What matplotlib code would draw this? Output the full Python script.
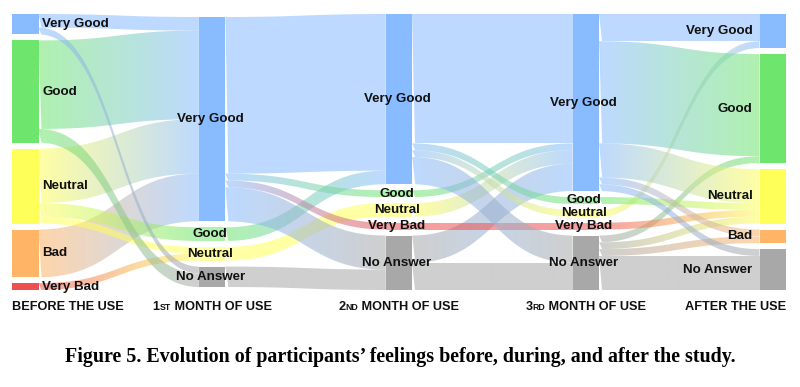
import numpy as np
import matplotlib.pyplot as plt
from matplotlib.path import Path
from matplotlib.patches import PathPatch, Rectangle
from matplotlib.colors import to_rgb

stages = ["BEFORE THE USE", "1ST MONTH OF USE", "2ND MONTH OF USE",
          "3RD MONTH OF USE", "AFTER THE USE"]

nodes = [
    ["Very Good", "Good", "Neutral", "Bad", "Very Bad"],
    ["Very Good", "Good", "Neutral", "No Answer"],
    ["Very Good", "Good", "Neutral", "Very Bad", "No Answer"],
    ["Very Good", "Good", "Neutral", "Very Bad", "No Answer"],
    ["Very Good", "Good", "Neutral", "Bad", "No Answer"],
]

# (source, target, participants) for each step between stages
flows_0 = [("Very Good", "Very Good", 2), ("Very Good", "No Answer", 1),
           ("Good", "Very Good", 13), ("Good", "No Answer", 2),
           ("Neutral", "Very Good", 8), ("Neutral", "Good", 2), ("Neutral", "Neutral", 1),
           ("Bad", "Very Good", 7), ("Very Bad", "Neutral", 1)]
flows_1 = [("Very Good", "Very Good", 23), ("Very Good", "Good", 1),
           ("Very Good", "Very Bad", 1), ("Very Good", "No Answer", 5),
           ("Good", "Very Good", 2), ("Neutral", "Neutral", 2),
           ("No Answer", "No Answer", 3)]
flows_2 = [("Very Good", "Very Good", 19), ("Very Good", "Good", 1),
           ("Very Good", "Neutral", 1), ("Very Good", "No Answer", 4),
           ("Good", "Very Good", 1), ("Neutral", "Very Good", 2),
           ("Very Bad", "Very Bad", 1), ("No Answer", "Very Good", 4),
           ("No Answer", "No Answer", 4)]
flows_3 = [("Very Good", "Very Good", 4), ("Very Good", "Good", 15),
           ("Very Good", "Neutral", 5), ("Very Good", "Bad", 1),
           ("Very Good", "No Answer", 1), ("Good", "Neutral", 1),
           ("Neutral", "Very Good", 1), ("Very Bad", "Neutral", 1),
           ("No Answer", "Good", 1), ("No Answer", "Neutral", 1),
           ("No Answer", "Bad", 1), ("No Answer", "No Answer", 5)]
flows = [flows_0, flows_1, flows_2, flows_3]

colors = {"Very Good": "#88BBFF", "Good": "#6EE66E", "Neutral": "#FFFF5A",
          "Bad": "#FFB466", "Very Bad": "#EE5050", "No Answer": "#A8A8A8"}
alpha = 0.55

# layout in pixel units
top, bottom = 14, 290
x_left, x_right, bar_w = 12, 759.5, 26.5
gap = 6.0

fig = plt.figure(figsize=(8, 3.87), dpi=100)
ax = fig.add_axes([0, 0, 1, 1])
ax.axis("off")

# node values
values = []
for s, names in enumerate(nodes):
    v = {}
    for n in names:
        inn = sum(f[2] for f in flows[s - 1] if f[1] == n) if s > 0 else 0
        out = sum(f[2] for f in flows[s] if f[0] == n) if s < len(flows) else 0
        v[n] = max(inn, out)
    values.append(v)

total = sum(values[0].values())
max_nodes = max(len(n) for n in nodes)
unit = (bottom - top - (max_nodes - 1) * gap) / total
spacing = (x_right - x_left) / (len(nodes) - 1)

pos = []
for s, names in enumerate(nodes):
    h = total * unit + (len(names) - 1) * gap
    y = top + (bottom - top - h) / 2
    p = {}
    for n in names:
        p[n] = [y, y + values[s][n] * unit]
        y += values[s][n] * unit + gap
    pos.append(p)


def light(c):
    r = np.array(to_rgb(c))
    return 1 - alpha * (1 - r)


# links
t = np.linspace(0, 1, 80)
for s, fl in enumerate(flows):
    x0 = x_left + s * spacing + bar_w
    x1 = x_left + (s + 1) * spacing
    xm = (x0 + x1) / 2
    bx = (1 - t) ** 3 * x0 + 3 * (1 - t) ** 2 * t * xm + 3 * (1 - t) * t ** 2 * xm + t ** 3 * x1
    sm = 3 * t ** 2 - 2 * t ** 3
    out_off = {n: pos[s][n][0] for n in nodes[s]}
    in_off = {n: pos[s + 1][n][0] for n in nodes[s + 1]}
    src_order = {n: i for i, n in enumerate(nodes[s])}
    tgt_order = {n: i for i, n in enumerate(nodes[s + 1])}
    outs = sorted(fl, key=lambda f: (src_order[f[0]], tgt_order[f[1]]))
    starts = {}
    for f in outs:
        starts[f] = out_off[f[0]]
        out_off[f[0]] += f[2] * unit
    ins = sorted(fl, key=lambda f: (tgt_order[f[1]], src_order[f[0]]))
    for f in ins:
        ya = starts[f]
        yb = in_off[f[1]]
        in_off[f[1]] += f[2] * unit
        hgt = f[2] * unit
        y_top = ya + (yb - ya) * sm
        y_bot = y_top + hgt
        verts = np.concatenate([np.column_stack([bx, y_top]),
                                np.column_stack([bx[::-1], y_bot[::-1]])])
        patch = PathPatch(Path(verts, closed=True), facecolor="none", edgecolor="none")
        ax.add_patch(patch)
        c0 = np.array(to_rgb(colors[f[0]]))
        c1 = np.array(to_rgb(colors[f[1]]))
        g = np.linspace(0, 1, 100)[:, None]
        img = np.ones((1, 100, 4))
        img[0, :, :3] = c0 * (1 - g) + c1 * g
        img[0, :, 3] = alpha
        ymin, ymax = min(ya, yb), max(ya, yb) + hgt
        im = ax.imshow(img, extent=(x0, x1, ymax, ymin), aspect="auto",
                       interpolation="bilinear", zorder=1)
        im.set_clip_path(patch)

# node bars and labels
lab_font = dict(family="Liberation Sans", weight="bold", size=9.6, color="#111111")
for s, names in enumerate(nodes):
    xb = x_left + s * spacing
    for n in names:
        y0, y1 = pos[s][n]
        middle = 0 < s < len(nodes) - 1
        fc = light(colors[n]) if (middle and values[s][n] <= 2) else colors[n]
        ax.add_patch(Rectangle((xb, y0), bar_w, y1 - y0, facecolor=fc,
                               edgecolor="none", zorder=2))
        yc = (y0 + y1) / 2
        if s == 0:
            ax.text(xb + bar_w + 4, yc, n, ha="left", va="center", zorder=3, **lab_font)
        elif s == len(nodes) - 1:
            ax.text(xb - 7, yc, n, ha="right", va="center", zorder=3, **lab_font)
        else:
            ax.text(xb + bar_w / 2 - 2, yc, n, ha="center", va="center", zorder=3, **lab_font)

ax.set_xlim(0, 800)
ax.set_ylim(387, 0)

# stage labels
st_font = dict(family="Liberation Sans", weight="bold", color="#111111")
base_y = 310.5
fig.canvas.draw()
r = fig.canvas.get_renderer()
for s, lab in enumerate(stages):
    if lab[0].isdigit():
        pieces = [(lab[0], 9.2), (lab[1:3], 6.3), (lab[3:], 9.2)]
    else:
        pieces = [(lab, 9.2)]
    texts = [ax.text(0, base_y, p, ha="left", va="baseline", size=sz, **st_font)
             for p, sz in pieces]
    widths = [tx.get_window_extent(r).width for tx in texts]
    w = sum(widths)
    xb = x_left + s * spacing
    if s == 0:
        x = xb
    elif s == len(stages) - 1:
        x = xb + bar_w - w
    else:
        x = xb + bar_w / 2 - w / 2
    for tx, wd in zip(texts, widths):
        tx.set_x(x)
        x += wd

fig.text(0.5, 1 - 357 / 387, "Figure 5. Evolution of participants\u2019 feelings before, during, and after the study.",
         ha="center", va="center", family="Liberation Serif", weight="bold", size=14.4)

fig.savefig("out.png", dpi=100)
